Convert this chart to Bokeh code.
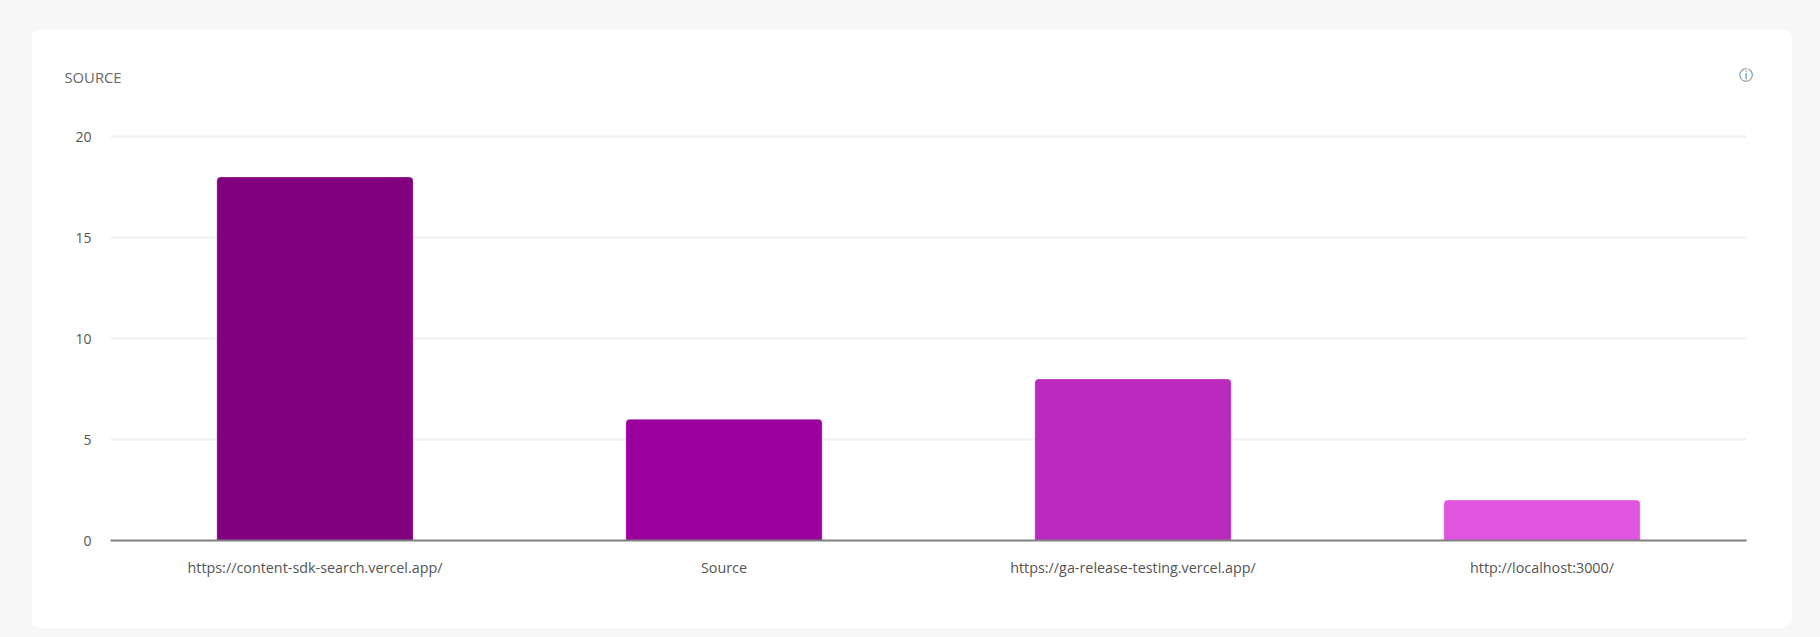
#!/usr/bin/env python3
from bokeh.embed import file_html
from bokeh.layouts import column
from bokeh.models import ColumnDataSource, FactorRange, Label, Range1d
from bokeh.plotting import figure
from bokeh.resources import INLINE

categories = [
    "https://content-sdk-search.vercel.app/",
    "Source",
    "https://ga-release-testing.vercel.app/",
    "http://localhost:3000/",
]
counts = [18, 6, 8, 2]
bar_colors = ["#800080", "#9c009c", "#bc29bf", "#e055e0"]
y_ticks = [0, 5, 10, 15, 20]

PAGE_BG = "#f7f7f7"
FONT = "Open Sans"

source = ColumnDataSource(dict(category=categories, count=counts, color=bar_colors))

# the figure is the white card, the column round it is the grey page
# y_range goes a hair over 20, else the top gridline gets clipped by the frame
p = figure(
    width=1761,
    height=599,
    x_range=FactorRange(factors=categories, range_padding=0),
    y_range=Range1d(0, 20.1),
    output_backend="svg",
    toolbar_location=None,
    min_border_left=79,
    min_border_right=46,
    min_border_top=105,
    min_border_bottom=88,
    margin=(29, 28, 9, 31),
    styles={"border-radius": "10px", "overflow": "hidden"},
)
p.border_fill_color = "white"
p.background_fill_color = "white"
p.outline_line_color = None

p.vbar(x="category", top="count", width=0.48, bottom=0, source=source,
       fill_color="color", line_color="white", line_alpha=0.3, line_width=1,
       border_radius=(4, 4, 0, 0))

p.xgrid.visible = False
p.ygrid.grid_line_color = "#f0f0f0"
p.ygrid.grid_line_width = 2
p.ygrid.ticker = y_ticks

p.yaxis.ticker = y_ticks
p.yaxis.axis_line_color = None
p.yaxis.major_tick_line_color = None
p.yaxis.minor_tick_line_color = None
p.yaxis.major_label_standoff = 13
p.yaxis.major_label_text_font = FONT
p.yaxis.major_label_text_font_size = "14px"
p.yaxis.major_label_text_color = "#555555"

p.xaxis.axis_line_color = "#808080"
p.xaxis.axis_line_width = 2
p.xaxis.major_tick_line_color = None
p.xaxis.minor_tick_line_color = None
p.xaxis.major_label_standoff = 11
p.xaxis.major_label_text_font = FONT
p.xaxis.major_label_text_font_size = "14.35px"
p.xaxis.major_label_text_color = "#555555"
p.xaxis.major_label_orientation = "horizontal"

# labels inside the frame get clipped, so these two live in the panel above it
p.add_layout(Label(
    x=-46, y=58, x_units="screen", y_units="screen", text="SOURCE",
    text_font=FONT, text_font_size="14.8px", text_color="#666666", text_baseline="middle",
), "above")
p.add_layout(Label(
    x=1635, y=40, x_units="screen", y_units="screen", text="\u24d8",
    text_font="DejaVu Sans", text_font_size="14px", text_color="#666666",
    text_align="center", text_baseline="middle",
), "above")

page = column(p, width=1820, height=637, styles={"background-color": PAGE_BG})

open("out.html", "w").write(file_html(page, INLINE))
